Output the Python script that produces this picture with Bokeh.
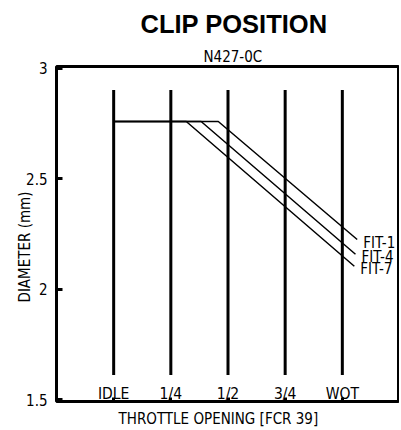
from bokeh.plotting import figure
from bokeh.models import LinearAxis, FixedTicker, Title
from bokeh.core.properties import value
from bokeh.embed import file_html
from bokeh.resources import INLINE

# ---- data ----
positions = [1, 2, 3, 4, 5]
position_labels = ["IDLE", "1/4", "1/2", "3/4", "WOT"]
y_ticks = [1.5, 2, 2.5, 3]
y_tick_labels = ["1.5", "2", "2.5", "3"]

series_names = ["FIT-1", "FIT-4", "FIT-7"]
fit1_x = [1, 2.83, 5.26]
fit1_y = [2.76, 2.76, 2.225]
fit4_x = [1, 2.53, 5.23]
fit4_y = [2.76, 2.76, 2.158]
fit7_x = [1, 2.27, 5.21]
fit7_y = [2.76, 2.76, 2.104]

title_text = "CLIP POSITION"
subtitle_text = "N427-0C"
x_label = "THROTTLE OPENING [FCR 39]"
y_label = "DIAMETER (mm)"

NARROW = "DejaVu Sans Condensed"

p = figure(width=399, height=429, x_range=(0, 6), y_range=(1.491, 3.009),
           output_backend="svg", toolbar_location=None,
           x_axis_type=None, y_axis_type=None,
           min_border_left=56, min_border_right=0, min_border_top=66, min_border_bottom=26)
p.background_fill_color = "white"
p.border_fill_color = "white"
p.outline_line_color = "black"
p.outline_line_width = 3
p.xgrid.visible = False
p.ygrid.visible = False

# y axis
yax = LinearAxis(ticker=FixedTicker(ticks=y_ticks),
                 major_label_overrides={t: l for t, l in zip(y_ticks, y_tick_labels)})
yax.axis_line_color = None
yax.major_tick_in = 6
yax.major_tick_out = 0
yax.major_tick_line_width = 3
yax.minor_tick_line_color = None
yax.major_label_standoff = 9
yax.major_label_text_font = NARROW
yax.major_label_text_font_size = "15px"
yax.major_label_text_color = "black"
p.add_layout(yax, "left")

# x axis (labels sit inside the frame)
xax = LinearAxis(ticker=FixedTicker(ticks=positions),
                 major_label_overrides={t: l for t, l in zip(positions, position_labels)})
xax.axis_line_color = None
xax.major_tick_in = 4
xax.major_tick_out = 0
xax.major_tick_line_width = 3
xax.minor_tick_line_color = None
xax.major_label_standoff = -17
xax.major_label_text_font = NARROW
xax.major_label_text_font_size = "15.5px"
xax.major_label_text_color = "black"
p.add_layout(xax, "below")

# vertical position bars
p.segment(x0=positions, x1=positions, y0=[1.611] * len(positions), y1=[2.902] * len(positions),
          line_color="black", line_width=3)

# fit lines
for xs, ys, name in [(fit1_x, fit1_y, series_names[0]),
                     (fit4_x, fit4_y, series_names[1]),
                     (fit7_x, fit7_y, series_names[2])]:
    p.line(xs, ys, line_color="black", line_width=1.5)
    p.text(x=[xs[-1]], y=[ys[-1]], text=[name], x_offset=6, y_offset=3,
           text_font=value(NARROW), text_font_size="15px", text_baseline="middle",
           text_align="left", text_color="black")

# titles (first added "above" sits nearest the frame)
p.add_layout(Title(text=subtitle_text, align="left", offset=147, standoff=2,
                   text_font=NARROW, text_font_size="15px", text_font_style="normal",
                   text_color="black"), "above")
p.add_layout(Title(text=title_text, align="left", offset=84, standoff=13,
                   text_font="Liberation Sans", text_font_size="25.5px", text_font_style="bold",
                   text_color="black"), "above")
p.add_layout(Title(text=x_label, align="left", offset=62, standoff=4,
                   text_font=NARROW, text_font_size="15px", text_font_style="normal",
                   text_color="black"), "below")
p.add_layout(Title(text=y_label, align="left", offset=99, standoff=-20,
                   text_font=NARROW, text_font_size="15px", text_font_style="normal",
                   text_color="black"), "left")

open("out.html", "w").write(file_html(p, INLINE))
